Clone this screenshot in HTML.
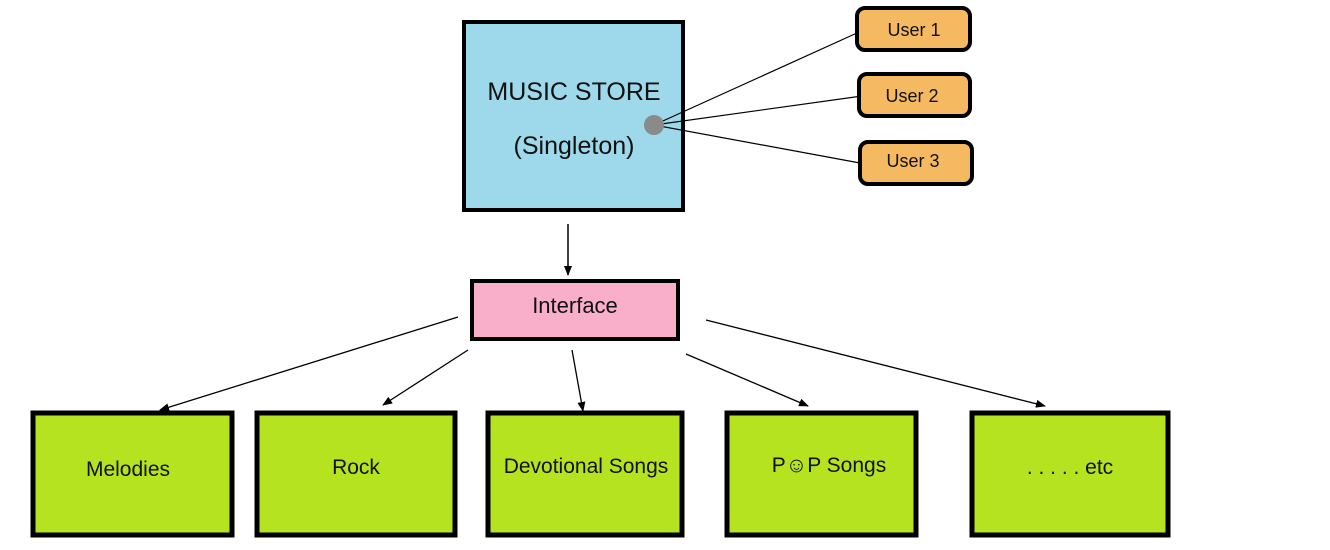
<!DOCTYPE html>
<html><head><style>
body{margin:0;background:#fff;width:1330px;height:545px;overflow:hidden;font-family:"Liberation Sans",sans-serif;}
svg text{font-family:"Liberation Sans",sans-serif;fill:#111;}
</style></head><body>
<svg width="1330" height="545" viewBox="0 0 1330 545">
<defs><marker id="a" markerWidth="10" markerHeight="8" refX="9" refY="4" orient="auto" markerUnits="userSpaceOnUse"><path d="M0,0 L10,4 L0,8 z" fill="#000"/></marker></defs>
<rect x="464" y="22" width="219" height="188" fill="#9dd9ea" stroke="#000" stroke-width="4"/>
<text x="574" y="100" font-size="25" text-anchor="middle">MUSIC STORE</text>
<text x="574" y="154" font-size="25" text-anchor="middle">(Singleton)</text>
<g stroke="#000" stroke-width="1.2">
<line x1="654" y1="125" x2="857" y2="33"/>
<line x1="654" y1="125" x2="862" y2="96"/>
<line x1="654" y1="125" x2="860" y2="163"/>
</g>
<circle cx="654" cy="125" r="10" fill="#8a8a8a"/>
<g fill="#f4b961" stroke="#000" stroke-width="4">
<rect x="857" y="8" width="113" height="42" rx="8"/>
<rect x="859" y="74" width="111" height="42" rx="8"/>
<rect x="860" y="142" width="112" height="42" rx="8"/>
</g>
<text x="914" y="36" font-size="18" text-anchor="middle">User 1</text>
<text x="912" y="102" font-size="18" text-anchor="middle">User 2</text>
<text x="913" y="167" font-size="18" text-anchor="middle">User 3</text>
<line x1="568" y1="224" x2="568" y2="275" stroke="#000" stroke-width="1.5" marker-end="url(#a)"/>
<rect x="472" y="281" width="206" height="58" fill="#f9aec9" stroke="#000" stroke-width="4"/>
<text x="575" y="313" font-size="22" text-anchor="middle">Interface</text>
<g stroke="#000" stroke-width="1.3" fill="none" marker-end="url(#a)">
<line x1="458" y1="317" x2="160" y2="410"/>
<line x1="468" y1="350" x2="383" y2="405"/>
<line x1="572" y1="350" x2="583" y2="411"/>
<line x1="686" y1="354" x2="808" y2="406"/>
<line x1="706" y1="320" x2="1045" y2="406"/>
</g>
<g fill="#b6e31f" stroke="#000" stroke-width="5">
<rect x="33" y="413" width="199" height="122"/>
<rect x="257" y="413" width="198" height="122"/>
<rect x="488" y="413" width="194" height="122"/>
<rect x="727" y="413" width="189" height="122"/>
<rect x="972" y="413" width="196" height="122"/>
</g>
<g font-size="21" text-anchor="middle">
<text x="128" y="476">Melodies</text>
<text x="356" y="474">Rock</text>
<text x="586" y="473">Devotional Songs</text>
<text x="829" y="472">P☺P Songs</text>
<text x="1070" y="474">. . . . . etc</text>
</g>
</svg>
</body></html>
